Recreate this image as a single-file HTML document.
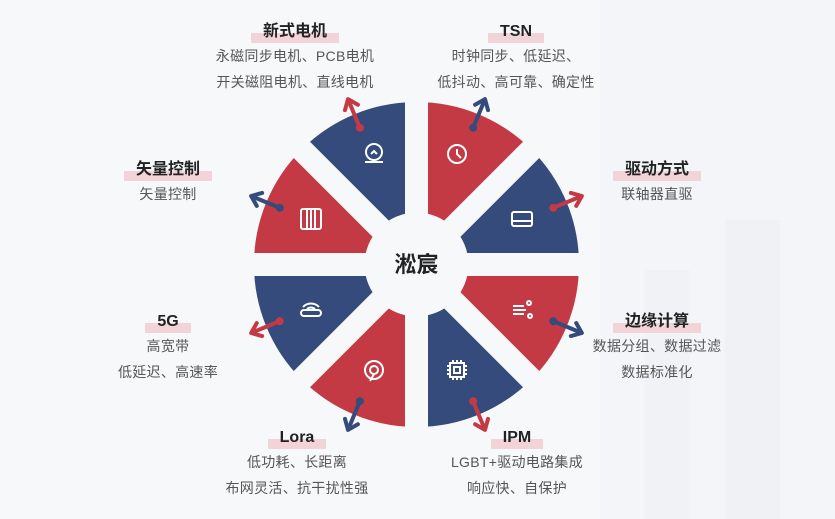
<!DOCTYPE html>
<html><head><meta charset="utf-8"><style>
body{margin:0;width:835px;height:519px;overflow:hidden;background:#f7f8fa;font-family:"Liberation Sans","Noto Sans CJK SC",sans-serif;}
.t{position:absolute;width:220px;margin-left:-110px;text-align:center;}
.h{display:inline-block;font-weight:bold;font-size:16px;color:#222;padding:0 12px;line-height:22px;background:linear-gradient(to bottom,transparent 55%,#f2d3d7 55%,#f2d3d7 100%);}
.l{font-size:14px;color:#555;line-height:26px;letter-spacing:0.3px;}
</style></head><body>
<svg width="835" height="519" style="position:absolute;left:0;top:0">
<rect x="600" y="0" width="235" height="519" fill="#f4f5f8"/>
<rect x="725" y="220" width="55" height="299" fill="#f0f1f4"/>
<rect x="645" y="270" width="45" height="249" fill="#f1f2f5"/>
<g stroke-linejoin="round" stroke-width="6">
<path d="M416.5 264.5 L416.5 105 A159.5 159.5 0 0 1 529.3 151.7Z" fill="#c33a44" stroke="#c33a44"/>
<path d="M416.5 264.5 L529.3 151.7 A159.5 159.5 0 0 1 576 264.5Z" fill="#344b7c" stroke="#344b7c"/>
<path d="M416.5 264.5 L576 264.5 A159.5 159.5 0 0 1 529.3 377.3Z" fill="#c33a44" stroke="#c33a44"/>
<path d="M416.5 264.5 L529.3 377.3 A159.5 159.5 0 0 1 416.5 424Z" fill="#344b7c" stroke="#344b7c"/>
<path d="M416.5 264.5 L416.5 424 A159.5 159.5 0 0 1 303.7 377.3Z" fill="#c33a44" stroke="#c33a44"/>
<path d="M416.5 264.5 L303.7 377.3 A159.5 159.5 0 0 1 257 264.5Z" fill="#344b7c" stroke="#344b7c"/>
<path d="M416.5 264.5 L257 264.5 A159.5 159.5 0 0 1 303.7 151.7Z" fill="#c33a44" stroke="#c33a44"/>
<path d="M416.5 264.5 L303.7 151.7 A159.5 159.5 0 0 1 416.5 105Z" fill="#344b7c" stroke="#344b7c"/>
</g>
<g stroke="#f7f8fa" stroke-width="23">
<line x1="416.5" y1="90" x2="416.5" y2="440"/>
<line x1="240" y1="264.5" x2="595" y2="264.5"/>
<line x1="290" y1="138" x2="543" y2="391"/>
<line x1="290" y1="391" x2="543" y2="138"/>
</g>
<circle cx="416.5" cy="264.5" r="52" fill="#f7f8fa"/>
<g stroke-width="4" fill="none" stroke-linecap="round" stroke-linejoin="round">
<g transform="translate(416.5,264.5) rotate(22.5)" stroke="#344b7c"><line x1="0" y1="-148" x2="0" y2="-178"/><polyline points="-7,-170 0,-179 7,-170"/><circle cx="0" cy="-148" r="2" fill="#344b7c"/></g>
<g transform="translate(416.5,264.5) rotate(67.5)" stroke="#c33a44"><line x1="0" y1="-148" x2="0" y2="-178"/><polyline points="-7,-170 0,-179 7,-170"/><circle cx="0" cy="-148" r="2" fill="#c33a44"/></g>
<g transform="translate(416.5,264.5) rotate(112.5)" stroke="#344b7c"><line x1="0" y1="-148" x2="0" y2="-178"/><polyline points="-7,-170 0,-179 7,-170"/><circle cx="0" cy="-148" r="2" fill="#344b7c"/></g>
<g transform="translate(416.5,264.5) rotate(157.5)" stroke="#c33a44"><line x1="0" y1="-148" x2="0" y2="-178"/><polyline points="-7,-170 0,-179 7,-170"/><circle cx="0" cy="-148" r="2" fill="#c33a44"/></g>
<g transform="translate(416.5,264.5) rotate(202.5)" stroke="#344b7c"><line x1="0" y1="-148" x2="0" y2="-178"/><polyline points="-7,-170 0,-179 7,-170"/><circle cx="0" cy="-148" r="2" fill="#344b7c"/></g>
<g transform="translate(416.5,264.5) rotate(247.5)" stroke="#c33a44"><line x1="0" y1="-148" x2="0" y2="-178"/><polyline points="-7,-170 0,-179 7,-170"/><circle cx="0" cy="-148" r="2" fill="#c33a44"/></g>
<g transform="translate(416.5,264.5) rotate(292.5)" stroke="#344b7c"><line x1="0" y1="-148" x2="0" y2="-178"/><polyline points="-7,-170 0,-179 7,-170"/><circle cx="0" cy="-148" r="2" fill="#344b7c"/></g>
<g transform="translate(416.5,264.5) rotate(337.5)" stroke="#c33a44"><line x1="0" y1="-148" x2="0" y2="-178"/><polyline points="-7,-170 0,-179 7,-170"/><circle cx="0" cy="-148" r="2" fill="#c33a44"/></g>
</g>
<g stroke="#fff" stroke-width="2" fill="none">
<g transform="translate(457,154)"><circle r="9"/><polyline points="0,-5 0,0 4,4"/></g>
<g transform="translate(522,219)"><rect x="-10" y="-7" width="20" height="14" rx="2"/><line x1="-10" y1="2" x2="10" y2="2"/></g>
<g transform="translate(522,310)"><line x1="-9" y1="-4" x2="2" y2="-4"/><line x1="-9" y1="0" x2="4" y2="0"/><line x1="-9" y1="4" x2="2" y2="4"/><circle cx="7" cy="-7" r="2"/><circle cx="8" cy="6" r="2"/></g>
<g transform="translate(457,370)"><rect x="-7" y="-7" width="14" height="14"/><rect x="-3" y="-3" width="6" height="6"/><path d="M-4-10v3M0-10v3M4-10v3M-4 7v3M0 7v3M4 7v3M-10-4h3M-10 0h3M-10 4h3M7-4h3M7 0h3M7 4h3"/></g>
<g transform="translate(374,370)"><circle r="9"/><circle r="4"/><line x1="0" y1="4" x2="-4" y2="11"/></g>
<g transform="translate(311,310)"><rect x="-10" y="0" width="20" height="6" rx="3"/><path d="M-8-3 A11 11 0 0 1 8-3 M-4 -1 A6 6 0 0 1 4 -1"/></g>
<g transform="translate(311,219)"><rect x="-10" y="-10" width="20" height="20" rx="2"/><path d="M-4-10v20M0-10v20M4-10v20"/></g>
<g transform="translate(374,154)"><circle cx="0" cy="-2" r="8"/><path d="M-9 8h18M-3 0l3-3 3 3"/></g>
</g>
<text x="416.5" y="272" text-anchor="middle" font-size="22" font-weight="bold" fill="#222" font-family="Liberation Sans,Noto Sans CJK SC,sans-serif">淞宸</text>
</svg>
<div class="t" style="left:295px;top:21px"><div class="h">新式电机</div><div class="l">永磁同步电机、PCB电机<br>开关磁阻电机、直线电机</div></div>
<div class="t" style="left:516px;top:21px"><div class="h">TSN</div><div class="l">时钟同步、低延迟、<br>低抖动、高可靠、确定性</div></div>
<div class="t" style="left:657px;top:159px"><div class="h">驱动方式</div><div class="l">联轴器直驱</div></div>
<div class="t" style="left:657px;top:311px"><div class="h">边缘计算</div><div class="l">数据分组、数据过滤<br>数据标准化</div></div>
<div class="t" style="left:517px;top:427px"><div class="h">IPM</div><div class="l">LGBT+驱动电路集成<br>响应快、自保护</div></div>
<div class="t" style="left:297px;top:427px"><div class="h">Lora</div><div class="l">低功耗、长距离<br>布网灵活、抗干扰性强</div></div>
<div class="t" style="left:168px;top:311px"><div class="h">5G</div><div class="l">高宽带<br>低延迟、高速率</div></div>
<div class="t" style="left:168px;top:159px"><div class="h">矢量控制</div><div class="l">矢量控制</div></div>
</body></html>
